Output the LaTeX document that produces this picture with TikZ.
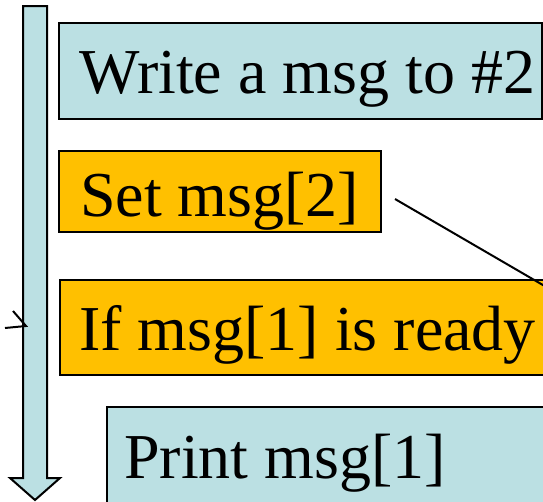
\documentclass[tikz,border=0pt]{standalone}
\usepackage{fontspec}
\setmainfont{Liberation Serif}
\definecolor{paleblue}{RGB}{187,224,227}
\definecolor{amber}{RGB}{255,192,0}
\tikzset{
  bluebox/.style={draw=black, line width=2pt, fill=paleblue, rectangle, inner sep=0pt, anchor=north west},
  amberbox/.style={draw=black, line width=2pt, fill=amber, rectangle, inner sep=0pt, anchor=north west},
  label/.style={anchor=base west, inner sep=0pt, font=\fontsize{64}{72}\selectfont},
  conn/.style={draw=black, line width=2pt}
}
\begin{document}
\begin{tikzpicture}[x=1pt,y=-1pt]
\useasboundingbox (0,0) rectangle (543,501);
\clip (0,0) rectangle (543,501);
% time arrow
\filldraw[fill=paleblue, draw=black, line width=2pt, line join=miter]
  (23,6) -- (47,6) -- (47,478) -- (60,478) -- (35,500) -- (10,478) -- (23,478) -- cycle;
% boxes
\node[bluebox, minimum width=483pt, minimum height=96pt] (b1) at (58,22) {};
\node[amberbox, minimum width=322pt, minimum height=81pt] (b2) at (58,150) {};
\node[amberbox, minimum width=490pt, minimum height=95pt] (b3) at (59,279) {};
\node[bluebox, minimum width=450pt, minimum height=110pt] (b4) at (106,406) {};
% texts
\node[label] (t1) at (79,93) {Write a msg to \#2};
\node[label] (t2) at (80,216) {Set msg[2]};
\node[label] (t3) at (79,350) {If msg[1] is ready};
\node[label] (t4) at (124,478) {Print msg[1]};
% connectors
\coordinate (d1) at (395,199);
\coordinate (d2) at (548,288);
\draw[conn] (d1) -- (d2);
\coordinate (a1) at (13,311);
\coordinate (atip) at (26,326);
\coordinate (a2) at (5,328);
\draw[conn, line join=miter] (a1) -- (atip) -- (a2);
\end{tikzpicture}
\end{document}
